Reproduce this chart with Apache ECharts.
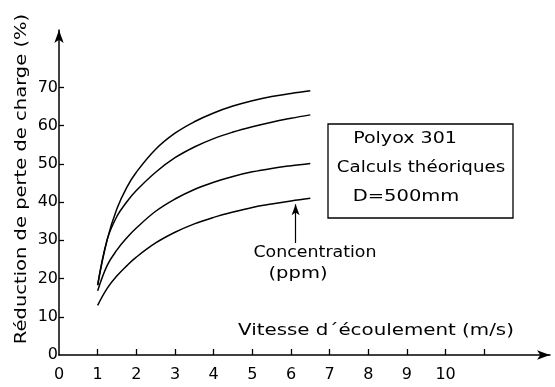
<!DOCTYPE html>
<html>
<head>
<meta charset="utf-8">
<script src="https://cdn.jsdelivr.net/npm/echarts@6/dist/echarts.min.js"></script>
<style>
html,body{margin:0;padding:0;background:#fff;}
#chart{width:555px;height:387px;}
</style>
</head>
<body>
<div id="chart"></div>
<script>
// ---- data ----
const xValues = [1, 1.25, 1.5, 1.75, 2, 2.5, 3, 3.5, 4, 4.5, 5, 5.5, 6, 6.5];
const conc100 = [18.3, 30.3, 38.3, 43.8, 47.8, 53.8, 58.0, 61.0, 63.3, 65.1, 66.5, 67.6, 68.4, 69.1];
const conc50  = [18.3, 30.3, 36.3, 40.0, 43.0, 47.8, 51.6, 54.4, 56.6, 58.3, 59.7, 60.9, 61.9, 62.8];
const conc20  = [16.8, 23.5, 27.5, 30.6, 33.2, 37.6, 40.8, 43.3, 45.2, 46.7, 47.9, 48.8, 49.5, 50.1];
const conc10  = [13.0, 17.5, 20.7, 23.3, 25.6, 29.3, 32.1, 34.3, 36.0, 37.4, 38.6, 39.5, 40.3, 41.0];
const seriesNames = ['100', '50', '20', '10'];
const seriesValues = [conc100, conc50, conc20, conc10];
const xTickLabels = [0, 1, 2, 3, 4, 5, 6, 7, 8, 9, 10];
const xTickValues = [1, 2, 3, 4, 5, 6, 7, 8, 9, 10, 11];
const yTickLabels = [0, 10, 20, 30, 40, 50, 60, 70];
const yTickValues = [10, 20, 30, 40, 50, 60, 70];
const arrowFrom = [6.12, 29.3];
const arrowTo = [6.12, 39.4];
const xTitle = 'Vitesse d\u00b4\u00e9coulement (m/s)';
const yTitle = 'R\u00e9duction de perte de charge (%)';
const boxLines = ['Polyox 301', 'Calculs th\u00e9oriques', 'D=500mm'];
const noteLines = ['Concentration', '(ppm)'];

// ---- chart ----
const FONT = '"DejaVu Sans", sans-serif';
const chart = echarts.init(document.getElementById('chart'), null, {renderer: 'canvas'});
const labelOffsets = [-17, -16, -16, -15];

const series = seriesNames.map((name, i) => {
  const vals = seriesValues[i];
  const data = xValues.map((x, j) => {
    if (j === xValues.length - 1) {
      return {
        value: [x, vals[j]],
        label: {
          show: true, formatter: name, position: 'top', distance: 1,
          offset: [labelOffsets[i], 0],
          color: '#000', fontSize: 16, fontFamily: FONT
        }
      };
    }
    return [x, vals[j]];
  });
  const s = {
    type: 'line', name: name, data: data, smooth: 0.4,
    showSymbol: false, symbol: 'none', silent: true,
    lineStyle: {color: '#000', width: 1.5},
    animation: false
  };
  if (name === '10') {
    s.markLine = {
      silent: true, animation: false,
      symbol: ['none', 'arrow'], symbolSize: [6, 11],
      label: {show: false},
      lineStyle: {color: '#000', width: 1.2, type: 'solid'},
      data: [[{coord: arrowFrom}, {coord: arrowTo}]]
    };
  }
  return s;
});

const textEl = (txt, x, y, size, scale, rot) => ({
  type: 'text', x: x, y: y, rotation: rot || 0, scaleX: scale, scaleY: 1, silent: true,
  style: {text: txt, fill: '#000', font: size + 'px ' + FONT, align: 'center', verticalAlign: 'middle'}
});

const option = {
  backgroundColor: '#fff',
  animation: false,
  grid: {left: 59, right: 5, top: 30, bottom: 32, containLabel: false},
  xAxis: {
    type: 'value', min: 0, max: 12.7,
    axisLine: {show: true, lineStyle: {color: '#000', width: 1.5}, symbol: ['none', 'arrow'], symbolSize: [7, 13]},
    axisTick: {show: true, inside: true, length: 6, customValues: xTickValues, lineStyle: {color: '#000', width: 1.3}},
    axisLabel: {show: true, customValues: xTickLabels, margin: 12, color: '#000', fontSize: 16, fontFamily: FONT},
    splitLine: {show: false}
  },
  yAxis: {
    type: 'value', min: 0, max: 85,
    axisLine: {show: true, lineStyle: {color: '#000', width: 1.5}, symbol: ['none', 'arrow'], symbolSize: [7, 13]},
    axisTick: {show: true, inside: true, length: 5, customValues: yTickValues, lineStyle: {color: '#000', width: 1.3}},
    axisLabel: {show: true, customValues: yTickLabels, margin: 1, color: '#000', fontSize: 16, fontFamily: FONT, padding: [0, 0, 7, 0]},
    splitLine: {show: false}
  },
  series: series,
  graphic: [
    textEl(yTitle, 22, 179, 16, 1.22, Math.PI / 2),
    textEl(xTitle, 376, 331, 16, 1.24),
    {type: 'rect', silent: true, shape: {x: 328, y: 124, width: 185, height: 94},
     style: {fill: 'none', stroke: '#000', lineWidth: 1.3}},
    textEl(boxLines[0], 405, 139, 16, 1.19),
    textEl(boxLines[1], 421, 168, 16, 1.14),
    textEl(boxLines[2], 406, 197, 16, 1.22),
    textEl(noteLines[0], 315, 253, 15, 1.16),
    textEl(noteLines[1], 298, 274, 15, 1.3)
  ]
};
chart.setOption(option);
</script>
</body>
</html>
